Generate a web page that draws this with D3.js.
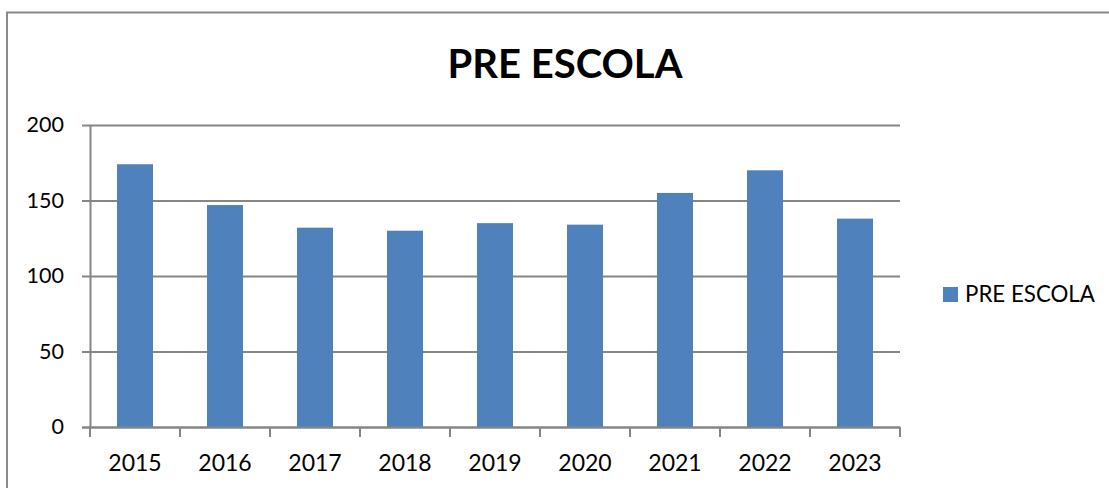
<!DOCTYPE html>
<html><head><meta charset="utf-8">
<script src="https://cdn.jsdelivr.net/npm/d3@7"></script>
<style>html,body{margin:0;padding:0;background:#fff;}svg{display:block;}</style>
</head><body>
<svg id="c" width="1109" height="488"></svg>
<script>
const categories = ["2015","2016","2017","2018","2019","2020","2021","2022","2023"];
const values = [174, 147, 132, 130, 135, 134, 155, 170, 138];
const yTicks = [0, 50, 100, 150, 200];
const seriesName = "PRE ESCOLA";
const title = "PRE ESCOLA";

const svg = d3.select("#c");
const font = "Lato, 'Open Sans', sans-serif";
const gridColor = "#868686";
const barColor = "#4F81BD";

// frame
svg.append("rect").attr("x",7).attr("y",12.5).attr("width",1130).attr("height",500)
  .attr("fill","none").attr("stroke","#8a8a8a").attr("stroke-width",2);

const m = {left:90, right:900, top:125, bottom:427};
const x = d3.scaleBand().domain(categories).range([m.left, m.right]).paddingInner(0.6).paddingOuter(0.3);
const y = d3.scaleLinear().domain([0,200]).range([m.bottom, m.top]);

// gridlines
svg.append("g").selectAll("line").data(yTicks).join("line")
  .attr("x1", m.left-8).attr("x2", m.right)
  .attr("y1", d=>y(d)+0.5).attr("y2", d=>y(d)+0.5)
  .attr("stroke", gridColor).attr("stroke-width", 2);

// bars
svg.append("g").selectAll("rect").data(values).join("rect")
  .attr("x",(d,i)=>x(categories[i])).attr("width",x.bandwidth())
  .attr("y",d=>y(d)).attr("height",d=>y(0)-y(d))
  .attr("fill",barColor);

// y axis
const ya = d3.axisLeft(y).tickValues(yTicks).tickSize(0).tickPadding(26);
const yg = svg.append("g").attr("transform",`translate(${m.left},0)`).call(ya);
yg.select(".domain").attr("stroke",gridColor).attr("stroke-width",2);
yg.selectAll("text").attr("font-family",font).attr("font-size",21.5).attr("fill","#000");

// x axis
const step = x.step();
const xa = d3.axisBottom(x).tickSize(0).tickPadding(27);
const xg = svg.append("g").attr("transform",`translate(0,${m.bottom+0.5})`).call(xa);
xg.select(".domain").remove();
xg.selectAll("text").attr("font-family",font).attr("font-size",23).attr("fill","#000");
svg.append("line").attr("x1",m.left-8).attr("x2",m.right).attr("y1",m.bottom+0.5).attr("y2",m.bottom+0.5)
  .attr("stroke",gridColor).attr("stroke-width",2);
// category boundary ticks
const bounds = d3.range(categories.length+1).map(i=>m.left + i*step);
svg.append("g").selectAll("line").data(bounds).join("line")
  .attr("x1",d=>d).attr("x2",d=>d).attr("y1",m.bottom).attr("y2",m.bottom+10)
  .attr("stroke",gridColor).attr("stroke-width",2);

// title
svg.append("text").attr("x",565).attr("y",78).attr("text-anchor","middle")
  .attr("font-family",font).attr("font-weight","bold").attr("font-size",40).attr("fill","#000").text(title);

// legend
svg.append("rect").attr("x",943).attr("y",287).attr("width",15).attr("height",15).attr("fill",barColor);
svg.append("text").attr("x",965).attr("y",302).attr("font-family",font).attr("font-size",22.3).attr("fill","#000").text(seriesName);
</script>
</body></html>
